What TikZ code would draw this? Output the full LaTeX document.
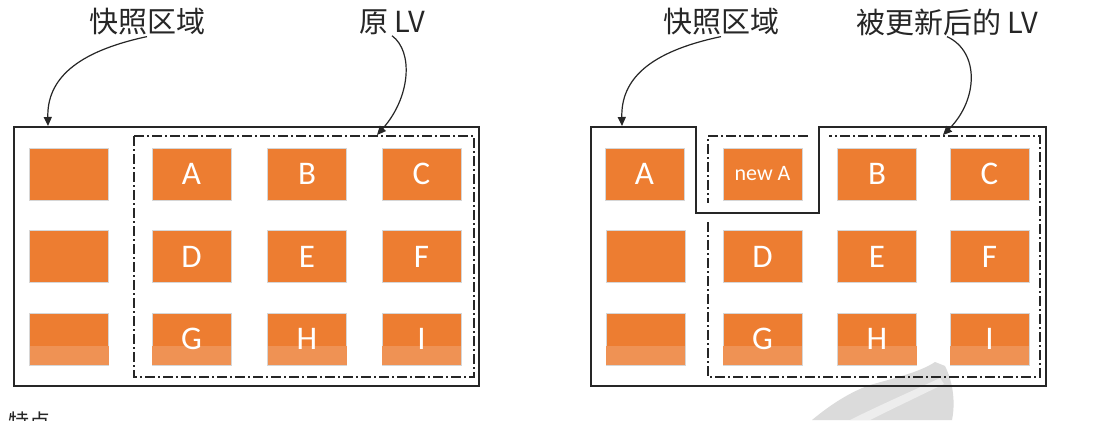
\documentclass[tikz,border=0pt]{standalone}
\usepackage{fontspec}
\setmainfont{Carlito}
\newfontfamily\cjk{Noto Sans CJK SC}
\usetikzlibrary{arrows.meta}
\definecolor{boxorange}{HTML}{ED7D31}
\definecolor{bandorange}{HTML}{EF9254}
\definecolor{boxedge}{HTML}{D6D6D6}
\tikzset{
  cell/.style={draw=boxedge, line width=0.8pt, fill=boxorange, minimum width=79pt, minimum height=52pt, inner sep=0pt, text=white, font=\fontsize{33}{33}\selectfont},
  lbl/.style={font=\cjk\fontsize{29}{29}\selectfont, inner sep=1pt, text=black!85},
  solidframe/.style={draw=black!85, line width=1.4pt},
  dashframe/.style={draw=black!85, line width=1.4pt, dash pattern=on 10pt off 3pt on 2pt off 3pt},
  pointer/.style={draw=black!85, line width=1.2pt, -{Triangle[length=9pt,width=8pt]}},
  band/.style={fill=bandorange}
}
\begin{document}
\begin{tikzpicture}[x=1pt,y=-1pt]
\useasboundingbox (0,0) rectangle (1094,420);
\fill[white] (0,0) rectangle (1094,420);
% watermark
\fill[black!14] (812,420) .. controls (830,405) and (850,392) .. (870,385) .. controls (895,378) and (920,372) .. (935,362) -- (945,366) .. controls (952,380) and (956,400) .. (952,420) -- cycle;
\fill[black!7] (850,420) .. controls (880,405) and (910,392) .. (940,378) -- (944,384) .. controls (915,398) and (890,410) .. (870,420) -- cycle;

% ---------- left panel ----------
\draw[solidframe] (14,127) rectangle (479,386);
\draw[dashframe] (134,136) rectangle (474,377);

\node[cell] (l00) at (69,174) {};
\node[cell] (l01) at (69,256.5) {};
\node[cell] (l02) at (69,339) {};
\node[cell] (lA) at (191.5,174) {A};
\node[cell] (lB) at (307,174) {B};
\node[cell] (lC) at (421.5,174) {C};
\node[cell] (lD) at (191.5,256.5) {D};
\node[cell] (lE) at (307,256.5) {E};
\node[cell] (lF) at (421.5,256.5) {F};
\node[cell] (lG) at (191.5,339) {};
\node[cell] (lH) at (307,339) {};
\node[cell] (lI) at (421.5,339) {};
\foreach \n in {l02,lG,lH,lI}{\fill[band] ([xshift=0.4pt,yshift=0.4pt]\n.south west) rectangle ([xshift=-0.4pt,yshift=19pt]\n.south east);}
\node[text=white, font=\fontsize{33}{33}\selectfont] at (lG) {G};
\node[text=white, font=\fontsize{33}{33}\selectfont] at (lH) {H};
\node[text=white, font=\fontsize{33}{33}\selectfont] at (lI) {I};

\node[lbl] (t1) at (147,22) {快照区域};
\node[lbl] (t2) at (392,22) {原 LV};
\coordinate (p1) at (48,126);
\coordinate (p2) at (377,135);
\draw[pointer] (t1.south) .. controls (75,52) and (47,80) .. (p1);
\draw[pointer] (t2.south) .. controls (414,52) and (410,98) .. (p2);

% ---------- right panel ----------
\draw[solidframe] (591,127) -- (696,127) -- (696,213) -- (819,213) -- (819,127) -- (1046,127) -- (1046,386) -- (591,386) -- cycle;
\draw[dashframe] (808,136) -- (708,136) -- (708,203);
\draw[dashframe] (708,222) -- (708,377) -- (1040,377) -- (1040,136) -- (829,136);

\node[cell] (r00) at (644.5,174) {A};
\node[cell, font=\fontsize{22}{22}\selectfont] (rnA) at (762.5,174) {new A};
\node[cell] (rB) at (877,174) {B};
\node[cell] (rC) at (989.5,174) {C};
\node[cell] (r01) at (645.5,256.5) {};
\node[cell] (rD) at (762.5,256.5) {D};
\node[cell] (rE) at (877,256.5) {E};
\node[cell] (rF) at (989.5,256.5) {F};
\node[cell] (r02) at (645.5,339) {};
\node[cell] (rG) at (762.5,339) {};
\node[cell] (rH) at (877,339) {};
\node[cell] (rI) at (989.5,339) {};
\foreach \n in {r02,rG,rH,rI}{\fill[band] ([xshift=0.4pt,yshift=0.4pt]\n.south west) rectangle ([xshift=-0.4pt,yshift=19pt]\n.south east);}
\node[text=white, font=\fontsize{33}{33}\selectfont] at (rG) {G};
\node[text=white, font=\fontsize{33}{33}\selectfont] at (rH) {H};
\node[text=white, font=\fontsize{33}{33}\selectfont] at (rI) {I};

\node[lbl] (t3) at (721,22) {快照区域};
\node[lbl] (t4) at (947,22) {被更新后的 LV};
\coordinate (p3) at (622,126);
\coordinate (p4) at (943,135);
\draw[pointer] (t3.south) .. controls (648,52) and (621,80) .. (p3);
\draw[pointer] (t4.south) .. controls (980,52) and (978,100) .. (p4);

% cut-off caption at the bottom
\node[font=\cjk\fontsize{21}{21}\selectfont, anchor=north west, inner sep=0pt, text=black!85] (cap) at (8,412) {特点};
\end{tikzpicture}
\end{document}
